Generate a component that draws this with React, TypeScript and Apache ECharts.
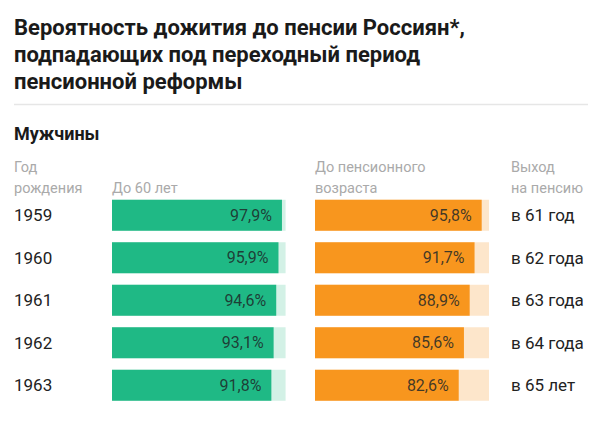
import React, { useEffect, useRef } from "react";
import * as echarts from "echarts";

const years = ["1959", "1960", "1961", "1962", "1963"];
const to60 = [97.9, 95.9, 94.6, 93.1, 91.8];
const toPension = [95.8, 91.7, 88.9, 85.6, 82.6];
const retireAge = ["в 61 год", "в 62 года", "в 63 года", "в 64 года", "в 65 лет"];

const titleLines = [
  "Вероятность дожития до пенсии Россиян*,",
  "подпадающих под переходный период",
  "пенсионной реформы",
];

const FONT = "Roboto, 'Noto Sans', sans-serif";
const fmt = (v: number) => v.toFixed(1).replace(".", ",") + "%";

export default function App() {
  const ref = useRef<HTMLDivElement>(null);
  useEffect(() => {
    document.body.style.margin = "0";
    if (!ref.current) return;
    const chart = echarts.init(ref.current, undefined, { renderer: "svg" });
    const gridTop = 194;
    const gridH = 212.5;
    const barW = 31;
    const labelStyle = {
      show: true,
      position: "insideRight" as const,
      distance: 10,
      color: "rgba(30,40,40,0.85)",
      fontSize: 16,
      fontFamily: FONT,
      formatter: (p: any) => fmt(p.value),
    };
    chart.setOption({
      animation: false,
      backgroundColor: "#ffffff",
      textStyle: { fontFamily: FONT },
      grid: [
        { left: 112, width: 173.6, top: gridTop, height: gridH },
        { left: 315, width: 174, top: gridTop, height: gridH },
      ],
      xAxis: [
        { type: "value", gridIndex: 0, min: 0, max: 100, show: false },
        { type: "value", gridIndex: 1, min: 0, max: 100, show: false },
      ],
      yAxis: [
        {
          type: "category",
          gridIndex: 0,
          data: years,
          inverse: true,
          axisLine: { show: false },
          axisTick: { show: false },
          axisLabel: {
            align: "left",
            margin: 98,
            color: "#222",
            fontSize: 17,
            fontFamily: FONT,
          },
        },
        {
          type: "category",
          gridIndex: 1,
          data: retireAge,
          inverse: true,
          position: "right",
          axisLine: { show: false },
          axisTick: { show: false },
          axisLabel: {
            align: "left",
            margin: 22,
            color: "#222",
            fontSize: 17,
            fontFamily: FONT,
          },
        },
      ],
      series: [
        {
          type: "bar",
          xAxisIndex: 0,
          yAxisIndex: 0,
          data: to60,
          barWidth: barW,
          itemStyle: { color: "#1fb985" },
          showBackground: true,
          backgroundStyle: { color: "#d3f1e6" },
          label: labelStyle,
        },
        {
          type: "bar",
          xAxisIndex: 1,
          yAxisIndex: 1,
          data: toPension,
          barWidth: barW,
          itemStyle: { color: "#f8961e" },
          showBackground: true,
          backgroundStyle: { color: "#fde6cb" },
          label: labelStyle,
        },
      ],
      graphic: [
        ...titleLines.map((t, i) => ({
          type: "text",
          left: 14,
          top: 16 + i * 27,
          style: {
            text: t,
            fill: "#1a1a1a",
            font: `bold 22px ${FONT}`,
          },
        })),
        {
          type: "line",
          shape: { x1: 14, y1: 104.5, x2: 588, y2: 104.5 },
          style: { stroke: "#e6e6e6", lineWidth: 1.5 },
        },
        {
          type: "text",
          left: 14,
          top: 124,
          style: { text: "Мужчины", fill: "#1a1a1a", font: `bold 18px ${FONT}` },
        },
        {
          type: "text",
          left: 14,
          top: 157,
          style: { text: "Год\nрождения", fill: "#aaaaaa", font: `14.5px ${FONT}`, lineHeight: 21 },
        },
        {
          type: "text",
          left: 112,
          top: 178,
          style: { text: "До 60 лет", fill: "#aaaaaa", font: `14.5px ${FONT}`, lineHeight: 21 },
        },
        {
          type: "text",
          left: 315,
          top: 157,
          style: { text: "До пенсионного\nвозраста", fill: "#aaaaaa", font: `14.5px ${FONT}`, lineHeight: 21 },
        },
        {
          type: "text",
          left: 511,
          top: 157,
          style: { text: "Выход\nна пенсию", fill: "#aaaaaa", font: `14.5px ${FONT}`, lineHeight: 21 },
        },
      ],
    });
    return () => chart.dispose();
  }, []);
  return <div ref={ref} style={{ width: 604, height: 422 }} />;
}
